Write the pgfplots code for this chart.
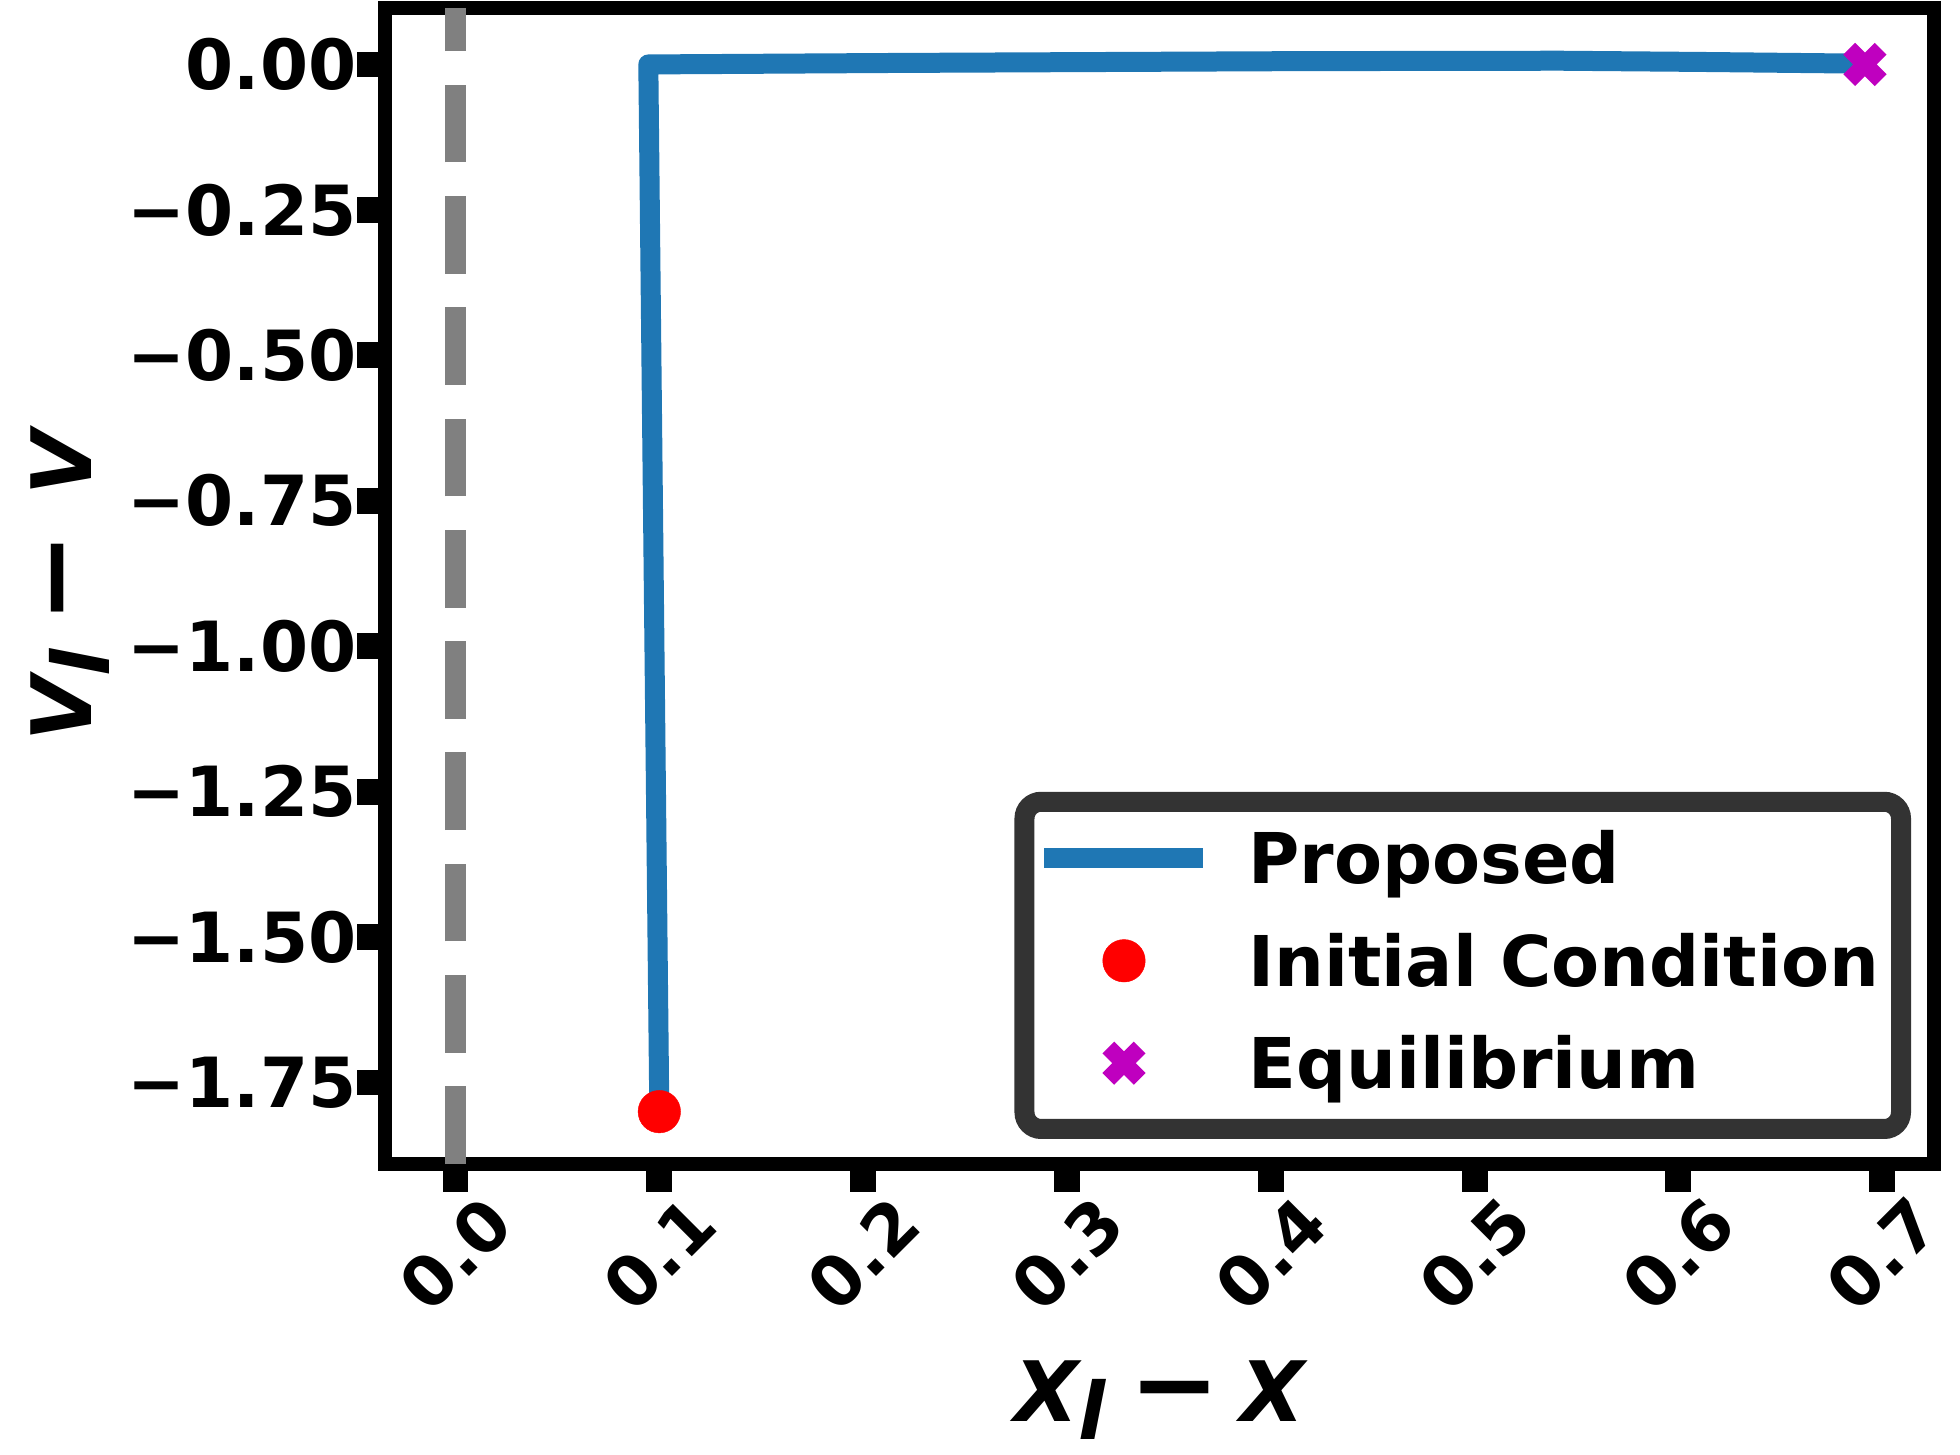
\documentclass[border=0pt]{standalone}
\usepackage{fontspec}
\setmainfont{DejaVu Sans}[BoldFont={DejaVu Sans Bold}, ItalicFont={DejaVu Sans Oblique}, BoldItalicFont={DejaVu Sans Bold Oblique}]
\usepackage{pgfplots}
\pgfplotsset{compat=1.18}
\definecolor{mplblue}{HTML}{1F77B4}
\definecolor{mplmag}{rgb}{0.75,0,0.75}
\definecolor{leggray}{HTML}{333333}
\newcommand{\tickfont}{\fontsize{16.6}{19.9}\selectfont\bfseries}
\newcommand{\legfont}{\fontsize{16.8}{20.2}\selectfont\bfseries}
\newcommand{\labfont}{\fontsize{20}{24}\selectfont\bfseries\itshape}
\newcommand{\sub}[1]{\raisebox{-4.3pt}{\fontsize{19}{19}\selectfont #1}}
\newcommand{\mn}{{\fontsize{26}{26}\selectfont −}}
\begin{document}
\begin{tikzpicture}
\begin{axis}[
  name=ax,
  at={(0,0)}, anchor=south west,
  scale only axis, width=371.76pt, height=277.44pt,
  xmin=-0.0346, xmax=0.7254, ymin=-1.89, ymax=0.097,
  axis line style={line width=3.36pt, black},
  tick align=outside, tick pos=left,
  major tick length=6.7pt,
  tick style={line width=6.2pt, black},
  xtick={0,0.1,0.2,0.3,0.4,0.5,0.6,0.7},
  xticklabels={0.0,0.1,0.2,0.3,0.4,0.5,0.6,0.7},
  ytick={-1.75,-1.5,-1.25,-1,-0.75,-0.5,-0.25,0},
  yticklabels={−1.75,−1.50,−1.25,−1.00,−0.75,−0.50,−0.25,0.00},
  ticklabel style={font=\tickfont},
  yticklabel style={anchor=east, inner sep=0pt},
  xticklabel style={rotate=45, anchor=center, inner sep=0pt},
  xticklabel shift=14.9pt,
  xlabel={\makebox[69.8pt][s]{X\sub{l}\hspace{0pt plus 1.2fill}\mn\hspace{0pt plus 1fill}X}},
  ylabel={\makebox[74.4pt][s]{V\sub{l}\hspace{0pt plus 1fill}\mn\hspace{0pt plus 1.4fill}V}},
  xlabel style={at={(axis description cs:0.5,-0.2224)}, anchor=base, inner sep=0pt, font=\labfont},
  ylabel style={at={(axis description cs:-0.1894,0.5)}, anchor=base, inner sep=0pt, font=\labfont},
  legend image code/.code={\draw[mark repeat=2, mark phase=2, #1] plot coordinates {(0pt,6.1pt) (19.08pt,6.1pt) (38.16pt,6.1pt)};},
  legend style={at={(axis description cs:0.9787,0.0303)}, anchor=south east,
    draw=leggray, line width=4.8pt, rounded corners=4pt, fill=white, outer sep=0pt,
    inner xsep=2.4pt, inner ysep=5.76pt, row sep=6.73pt, column sep=8.4pt,
    font=\legfont,
    nodes={inner sep=0pt, outer sep=0pt, anchor=base west, text height=13.92pt, text depth=3.93pt, text width=154.2pt, align=left}},
]
\addplot[gray, line width=5.04pt, dash pattern=on 18.65pt off 8.06pt, forget plot] coordinates {(0,-1.89) (0,0.097)};
\addplot[mplblue, line width=4.8pt, line join=round] coordinates {
(0.1,-1.8) (0.0946,0) (0.218,0.0026) (0.414,0.0057) (0.542,0.0064) (0.611,0.0043) (0.681,0.0017) (0.6915,0.0)};
\addlegendentry{Proposed}
\addplot[only marks, color=red, mark=*, mark size=5.1pt, mark options={line width=0.1pt, draw=red, fill=red}] coordinates {(0.1,-1.8)};
\addlegendentry{Initial Condition}
\addplot[only marks, color=mplmag, mark=x, mark size=5.33pt, mark options={line width=4pt, draw=mplmag}] coordinates {(0.6915,0)};
\addlegendentry{Equilibrium}
\end{axis}
\pgfresetboundingbox
\useasboundingbox (-92.4pt,-69.6pt) rectangle (378pt,279.36pt);
\end{tikzpicture}
\end{document}
